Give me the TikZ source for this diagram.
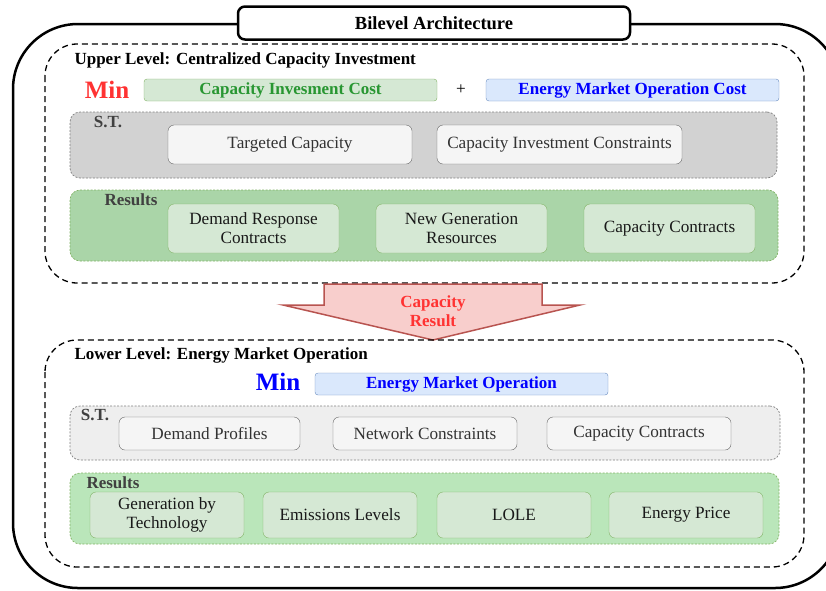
\documentclass[tikz,border=0pt]{standalone}
\usepackage{fontspec}
\setmainfont{Liberation Serif}

\definecolor{resfill}{HTML}{D5E8D4}
\definecolor{resdraw}{HTML}{82B366}
\definecolor{consfill}{HTML}{F5F5F5}
\definecolor{consdraw}{HTML}{666666}
\definecolor{bluefill}{HTML}{DAE8FC}
\definecolor{bluedraw}{HTML}{6C8EBF}
\definecolor{arrfill}{HTML}{F8CECC}
\definecolor{arrdraw}{HTML}{B85450}
\definecolor{minred}{RGB}{255,50,50}
\definecolor{costgreen}{RGB}{40,150,50}
\definecolor{upgray}{RGB}{210,210,210}
\definecolor{lowgray}{RGB}{238,238,238}
\definecolor{upgreen}{RGB}{170,213,168}
\definecolor{lowgreen}{RGB}{186,230,186}

\begin{document}
\begin{tikzpicture}[x=1pt, y=-1pt,
    txt/.style={font=\fontsize{17.2}{19}\selectfont},
    hd/.style={font=\fontsize{17}{19}\selectfont\bfseries},
    box/.style={draw, rounded corners=6pt, align=center, inner sep=0pt, txt},
    cons/.style={box, fill=consfill, draw=consdraw, text=black!80},
    res/.style={box, fill=resfill, draw=resdraw, text=black!90},
    cost/.style={box, hd, rounded corners=3pt, minimum width=293pt, minimum height=22pt},
    region/.style={rounded corners=10pt, dash pattern=on 2pt off 1.5pt, line width=.7pt,
      inner sep=0pt},
    level/.style={draw, dash pattern=on 6pt off 4pt, line width=1.3pt, rounded corners=32pt},
    minlbl/.style={font=\fontsize{25}{27}\selectfont\bfseries}]

  \clip (0,0) rectangle (826,590);

  % outer frame and title
  \draw[line width=2.5pt, rounded corners=65pt] (13,24) rectangle (840,588);
  \node[draw, line width=2.5pt, fill=white, rounded corners=7pt, minimum width=392pt,
    minimum height=33pt, font=\fontsize{18.5}{20}\selectfont\bfseries] (ttl) at (434,23)
    {Bilevel Architecture};

  % upper level: capacity investment
  \draw[level] (45,44) rectangle (804,283);
  \node[hd, anchor=west] (uphd) at (71,60) {Upper Level: Centralized Capacity Investment};
  \node[minlbl, text=minred] (upmin) at (107,90) {Min};
  \node[cost, fill=resfill, draw=resdraw, text=costgreen] (inv) at (290.5,90)
    {Capacity Invesment Cost};
  \node[txt] (plus) at (461,90) {+};
  \node[cost, fill=bluefill, draw=bluedraw, text=blue] (opc) at (632.5,90)
    {Energy Market Operation Cost};

  \node[region, draw=gray, fill=upgray, minimum width=707pt, minimum height=66pt] (upst)
    at (423.5,145) {};
  \node[hd, text=black!75] (upstlbl) at (108,122) {S.T.};
  \node[cons, minimum width=244pt, minimum height=39pt] (tc) at (290,144.5)
    {Targeted Capacity};
  \node[cons, minimum width=245pt, minimum height=39pt] (cic) at (559.5,144.5)
    {Capacity Investment Constraints};

  \node[region, draw=resdraw, fill=upgreen, minimum width=708pt, minimum height=71pt] (upres)
    at (424,225.5) {};
  \node[hd, text=black!75] (upreslbl) at (131,200) {Results};
  \node[res, minimum width=171pt, minimum height=49pt] (drc) at (253.5,228.5)
    {Demand Response\\Contracts};
  \node[res, minimum width=171pt, minimum height=49pt] (ngr) at (461.5,228.5)
    {New Generation\\Resources};
  \node[res, minimum width=171pt, minimum height=49pt] (cc1) at (669.5,228.5)
    {Capacity Contracts};

  % capacity result handed down
  \draw[fill=arrfill, draw=arrdraw, line width=1.5pt, line join=miter]
    (324,284) -- (542,284) -- (542,305) -- (580,305) -- (433,340)
    -- (283,305) -- (324,305) -- cycle;
  \node[hd, text=minred, align=center] (capres) at (433,311) {Capacity\\Result};

  % lower level: market operation
  \draw[level] (45,340) rectangle (804,567);
  \node[hd, anchor=west] (lowhd) at (71,355) {Lower Level: Energy Market Operation};
  \node[minlbl, text=blue] (lowmin) at (278,382) {Min};
  \node[cost, fill=bluefill, draw=bluedraw, text=blue] (emo) at (461.5,384)
    {Energy Market Operation};

  \node[region, draw=gray, fill=lowgray, minimum width=710pt, minimum height=54pt] (lowst)
    at (425,433) {};
  \node[hd, text=black!75] (lowstlbl) at (95,415) {S.T.};
  \node[cons, minimum width=181pt, minimum height=33pt] (dp) at (209.5,433.5)
    {Demand Profiles};
  \node[cons, minimum width=184pt, minimum height=33pt] (nc) at (425,433.5)
    {Network Constraints};
  \node[cons, minimum width=184pt, minimum height=33pt] (cc2) at (639,433.5)
    {Capacity Contracts};

  \node[region, draw=resdraw, fill=lowgreen, minimum width=709pt, minimum height=71pt] (lowres)
    at (424.5,508.5) {};
  \node[hd, text=black!75] (lowreslbl) at (113,483) {Results};
  \node[res, minimum width=154pt, minimum height=46pt] (gbt) at (167,515)
    {Generation by\\Technology};
  \node[res, minimum width=154pt, minimum height=46pt] (el) at (340,515)
    {Emissions Levels};
  \node[res, minimum width=154pt, minimum height=46pt] (lole) at (514,515) {LOLE};
  \node[res, minimum width=154pt, minimum height=46pt] (ep) at (686,515) {Energy Price};
\end{tikzpicture}
\end{document}
